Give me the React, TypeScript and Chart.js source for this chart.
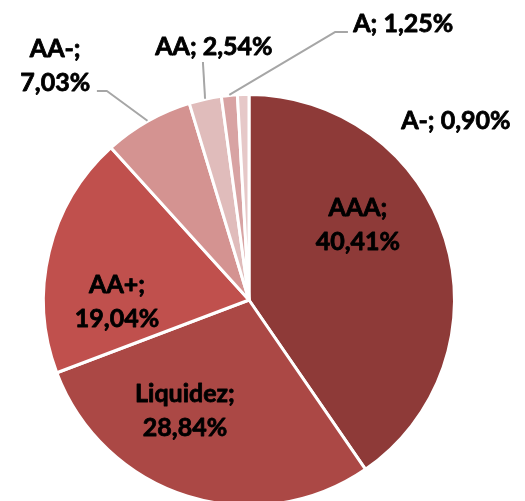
import React, { useEffect, useRef } from 'react';
import { Chart, registerables } from 'chart.js';

Chart.register(...registerables);

// ---- data ----
const categories: string[] = ['AAA', 'Liquidez', 'AA+', 'AA-', 'AA', 'A', 'A-'];
const shares: number[] = [40.41, 28.84, 19.04, 7.03, 2.54, 1.25, 0.9];
const sliceColors: string[] = ['#8E3A38', '#AB4845', '#C0504D', '#D49391', '#E0BCBB', '#D8A3A3', '#E6C8C8'];

// ---- label layout (relative to pie centre, in units of the pie radius) ----
type Leader = { elbow: [number, number]; end: [number, number] } | null;
const labelLayout: { dx: number; dy: number; split: boolean; leader: Leader }[] = [
  { dx: 0.534, dy: -0.371, split: true, leader: null },
  { dx: -0.314, dy: 0.538, split: true, leader: null },
  { dx: -0.647, dy: 0.006, split: true, leader: null },
  { dx: -0.95, dy: -1.153, split: true, leader: { elbow: [51.7, 26.2], end: [41.7, 26.2] } },
  { dx: -0.172, dy: -1.246, split: false, leader: { elbow: [-11, 16.2], end: [-11, 16.2] } },
  { dx: 0.756, dy: -1.356, split: false, leader: { elbow: [-68.3, 8.7], end: [-55.3, 8.7] } },
  { dx: 1.014, dy: -0.882, split: false, leader: null },
];

const FONT_SIZE = 25;
const LINE_GAP = 34;
const CAP = 0.72 * FONT_SIZE;
const BORDER = 3;

const fmt = (v: number) => v.toFixed(2).replace('.', ',') + '%';

const labelPlugin = {
  id: 'pieLabels',
  afterDatasetsDraw(chart: any) {
    const ctx: CanvasRenderingContext2D = chart.ctx;
    const meta = chart.getDatasetMeta(0);
    ctx.save();
    meta.data.forEach((arc: any, i: number) => {
      const p = arc.getProps(['x', 'y', 'startAngle', 'endAngle', 'outerRadius'], true);
      const r = p.outerRadius - BORDER / 2;
      const lay = labelLayout[i];
      const lx = p.x + lay.dx * r;
      const ly = p.y + lay.dy * r;
      if (lay.leader) {
        const mid = (p.startAngle + p.endAngle) / 2;
        const sx = p.x + Math.cos(mid) * (r + 2);
        const sy = p.y + Math.sin(mid) * (r + 2);
        ctx.beginPath();
        ctx.strokeStyle = '#A6A6A6';
        ctx.lineWidth = 2;
        ctx.moveTo(sx, sy);
        ctx.lineTo(lx + lay.leader.elbow[0], ly + lay.leader.elbow[1]);
        ctx.lineTo(lx + lay.leader.end[0], ly + lay.leader.end[1]);
        ctx.stroke();
      }
      ctx.fillStyle = '#000000';
      ctx.strokeStyle = '#000000';
      ctx.lineWidth = 0.8;
      ctx.lineJoin = 'round';
      ctx.font = `bold ${FONT_SIZE}px Lato, "Open Sans", sans-serif`;
      ctx.textAlign = 'center';
      ctx.textBaseline = 'alphabetic';
      const name = categories[i] + ';';
      const val = fmt(shares[i]);
      const put = (t: string, y: number) => {
        ctx.fillText(t, lx, y);
        ctx.strokeText(t, lx, y);
      };
      if (lay.split) {
        put(name, ly - LINE_GAP / 2 + CAP / 2);
        put(val, ly + LINE_GAP / 2 + CAP / 2);
      } else {
        put(name + ' ' + val, ly + CAP / 2);
      }
    });
    ctx.restore();
  },
};

export default function App() {
  const ref = useRef<HTMLCanvasElement>(null);
  useEffect(() => {
    document.body.style.margin = '0';
    const chart = new Chart(ref.current as HTMLCanvasElement, {
      type: 'pie',
      data: {
        labels: categories,
        datasets: [
          {
            data: shares,
            backgroundColor: sliceColors,
            borderColor: '#FFFFFF',
            borderWidth: BORDER,
            radius: 205.5,
          } as any,
        ],
      },
      options: {
        responsive: false,
        animation: false,
        layout: { padding: { left: 45, right: 72, top: 96, bottom: 6 } },
        plugins: { legend: { display: false }, tooltip: { enabled: false } },
      },
      plugins: [labelPlugin],
    });
    return () => chart.destroy();
  }, []);
  return (
    <div style={{ width: 525, height: 501, overflow: 'hidden', background: '#FFFFFF' }}>
      <canvas ref={ref} width={525} height={510} style={{ display: 'block' }} />
    </div>
  );
}
